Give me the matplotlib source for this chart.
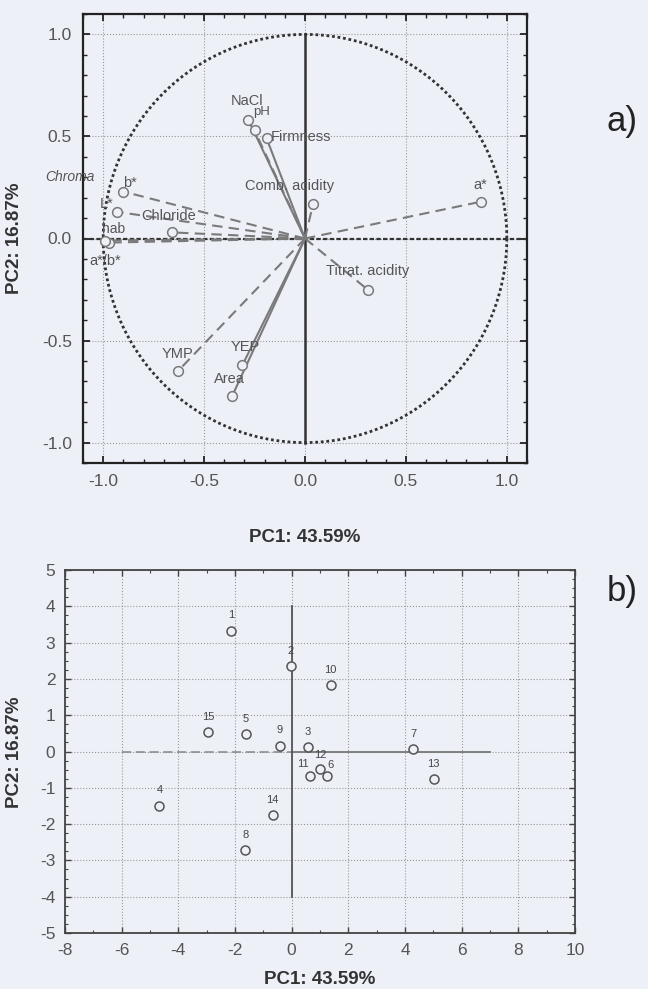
import numpy as np
import matplotlib
matplotlib.use("Agg")
import matplotlib.pyplot as plt
from matplotlib.ticker import MultipleLocator

plt.rcParams['font.family'] = ['Liberation Sans', 'DejaVu Sans']
plt.rcParams['axes.unicode_minus'] = False

bg = '#eef0f8'
txt = '#555555'
ln = '#7a7a7a'

# loadings (PC1, PC2) of the variables
var_names = ['NaCl', 'pH', 'Firmness', 'Comb. acidity', 'a*', 'Titrat. acidity',
             'YMP', 'YEP', 'Area', 'b*', 'L*', 'Chloride', 'hab', 'a*/b*']
var_pc1 = [-0.28, -0.25, -0.19, 0.04, 0.87, 0.31, -0.63, -0.31, -0.36,
           -0.90, -0.93, -0.66, -0.97, -0.99]
var_pc2 = [0.58, 0.53, 0.49, 0.17, 0.18, -0.25, -0.65, -0.62, -0.77,
           0.23, 0.13, 0.03, -0.02, -0.01]
var_dashed = [False, True, False, True, True, True, True, False, False,
              True, True, True, True, True]
# label offsets in points (dx, dy)
var_offsets = [(-1, 14), (5, 13), (25, 1), (-17, 13), (0, 12), (0, 13),
               (0, 12), (2, 13), (-2, 12), (5, 6), (-8, 6), (-2, 12), (3, 10), (0, -15)]
var_sizes = [10.5, 9.5, 10.5, 10.5, 10.5, 10.5, 10.5, 10.5, 10.5, 10.5, 10.5,
             10.5, 10, 10.5]

# sample scores
sample_ids = [str(i) for i in range(1, 16)]
score_pc1 = [-2.14, -0.04, 0.57, -4.67, -1.62, 1.26, 4.30, -1.64, -0.42,
             1.38, 0.64, 1.00, 5.01, -0.67, -2.94]
score_pc2 = [3.33, 2.35, 0.12, -1.49, 0.47, -0.68, 0.06, -2.72, 0.16,
             1.83, -0.68, -0.47, -0.77, -1.75, 0.53]
score_offsets = {'11': (-5, 9), '12': (0, 10), '6': (2, 8)}

fig = plt.figure(figsize=(6.48, 9.89), dpi=100, facecolor=bg)

# ---- a) correlation circle
ax = fig.add_axes([83/648, 1-463/989, 444/648, 449/989], facecolor=bg)
ax.set_xlim(-1.1, 1.1)
ax.set_ylim(-1.1, 1.1)
ax.xaxis.set_major_locator(MultipleLocator(0.5))
ax.yaxis.set_major_locator(MultipleLocator(0.5))
ax.xaxis.set_minor_locator(MultipleLocator(0.1))
ax.yaxis.set_minor_locator(MultipleLocator(0.1))
ax.tick_params(which='both', direction='in', top=True, right=True,
               colors='#222222', labelcolor=txt, labelsize=12.5, pad=8)
ax.tick_params(which='major', length=5, width=1.3)
ax.tick_params(which='minor', length=3, width=1)
ax.grid(True, which='major', linestyle=':', color='#999999', linewidth=0.8)
for s in ax.spines.values():
    s.set_color('#222222')
    s.set_linewidth(1.6)

t = np.linspace(0, 2*np.pi, 400)
ax.plot(np.cos(t), np.sin(t), color='#333333', linestyle=(0, (1, 1)), linewidth=2)
ax.plot([-1.1, 1.1], [0, 0], color='#333333', linestyle=(0, (2, 1)), linewidth=1.6)
ax.plot([0, 0], [-1, 1], color='#333333', linewidth=1.8)

for x, y, d in zip(var_pc1, var_pc2, var_dashed):
    ax.plot([0, x], [0, y], color=ln, linewidth=1.5,
            linestyle=(0, (5, 3)) if d else '-')
ax.plot(var_pc1, var_pc2, 'o', markersize=7, markerfacecolor=bg,
        markeredgecolor=ln, markeredgewidth=1.1, zorder=5)
for name, x, y, off, fs in zip(var_names, var_pc1, var_pc2, var_offsets, var_sizes):
    ax.annotate(name, (x, y), xytext=off, textcoords='offset points',
                ha='center', va='center', fontsize=fs, color=txt, zorder=6,
                annotation_clip=False)
ax.text(-1.165, 0.30, 'Chroma', fontsize=10, style='italic', color=txt,
        ha='center', va='center', clip_on=False)

fig.text(305/648, 1-537/989, 'PC1: 43.59%', ha='center', va='center',
         fontsize=13.5, fontweight='bold', color='#333333')
fig.text(15/648, 1-238/989, 'PC2: 16.87%', ha='center', va='center',
         rotation=90, fontsize=13.5, fontweight='bold', color='#333333')
fig.text(622/648, 1-122/989, 'a)', ha='center', va='center', fontsize=25,
         color='#222222')

# ---- b) score plot
bx = fig.add_axes([65/648, 1-933/989, 510/648, 363/989], facecolor=bg)
bx.set_xlim(-8, 10)
bx.set_ylim(-5, 5)
bx.xaxis.set_major_locator(MultipleLocator(2))
bx.yaxis.set_major_locator(MultipleLocator(1))
bx.xaxis.set_minor_locator(MultipleLocator(1))
bx.yaxis.set_minor_locator(MultipleLocator(0.25))
bx.tick_params(which='both', direction='in', top=True, right=True,
               colors='#444444', labelcolor=txt, labelsize=12.5, pad=7)
bx.tick_params(which='major', length=4, width=1)
bx.tick_params(which='minor', length=2.5, width=0.8)
bx.grid(True, which='major', linestyle=':', color='#999999', linewidth=0.8)
for s in bx.spines.values():
    s.set_color('#444444')
    s.set_linewidth(1.3)

bx.plot([-6, 0], [0, 0], color='#888888', linestyle=(0, (6, 3)), linewidth=1.1)
bx.plot([0, 7], [0, 0], color='#777777', linewidth=1.3)
bx.plot([0, 0], [-4, 4], color='#555555', linewidth=1.3)

bx.plot(score_pc1, score_pc2, 'o', markersize=6.5, markerfacecolor=bg,
        markeredgecolor='#555555', markeredgewidth=1.1, zorder=5)
for sid, x, y in zip(sample_ids, score_pc1, score_pc2):
    bx.annotate(sid, (x, y), xytext=score_offsets.get(sid, (0, 11)),
                textcoords='offset points', ha='center', va='center',
                fontsize=8, color='#444444', zorder=6)

fig.text(320/648, 1-979/989, 'PC1: 43.59%', ha='center', va='center',
         fontsize=13.5, fontweight='bold', color='#333333')
fig.text(15/648, 1-752/989, 'PC2: 16.87%', ha='center', va='center',
         rotation=90, fontsize=13.5, fontweight='bold', color='#333333')
fig.text(622/648, 1-592/989, 'b)', ha='center', va='center', fontsize=25,
         color='#222222')

fig.savefig('out.png', dpi=100, facecolor=bg)
